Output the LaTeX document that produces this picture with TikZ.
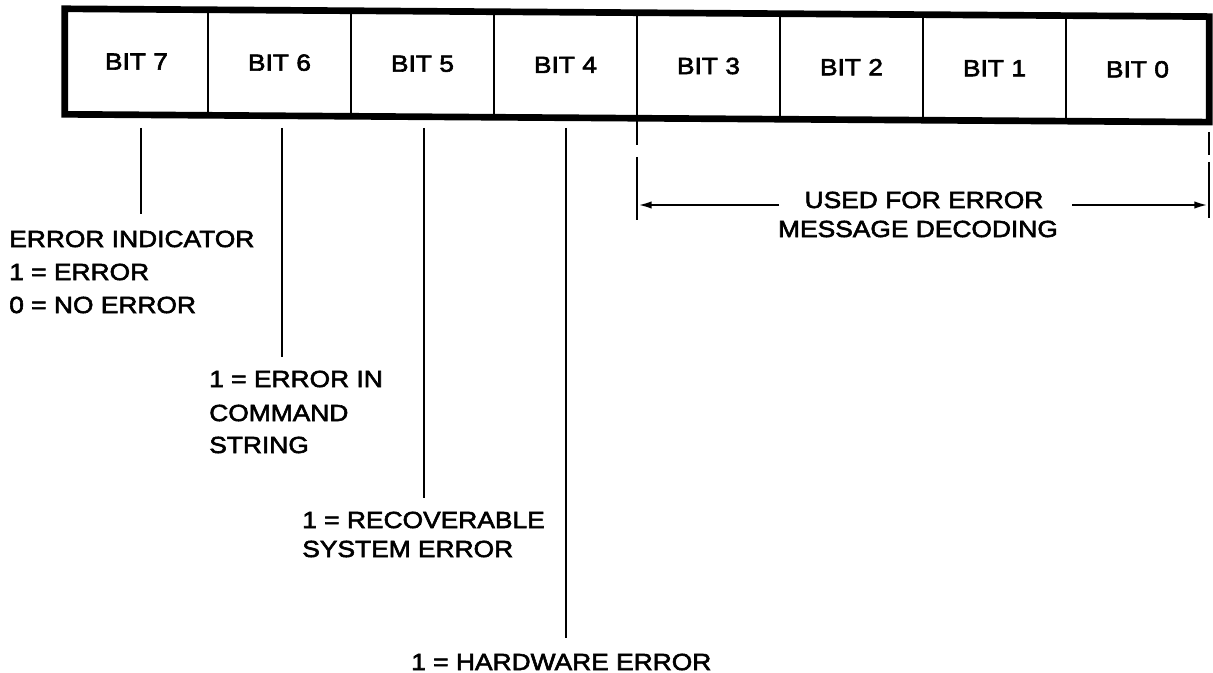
\documentclass[tikz,border=0pt]{standalone}
\usepackage{fontspec}
\setmainfont{Liberation Sans}[FakeStretch=1.13,FakeBold=2.5]
\usetikzlibrary{arrows.meta}
\begin{document}
\begin{tikzpicture}[x=0.75pt,y=-0.75pt,
  txt/.style={font=\fontsize{17.5}{21}\selectfont},
  lbl/.style={txt,inner sep=0pt,anchor=west},
  cell/.style={txt,inner sep=0pt,minimum width=107.25pt,minimum height=78.75pt},
  frame/.style={line width=5pt,line join=miter},
  divider/.style={line width=1.2pt},
  lead/.style={line width=1.6pt},
  ext/.style={line width=1.4pt},
  arr/.style={line width=2pt,-{Latex[length=11pt,width=5.5pt]}}]
\useasboundingbox (0,0) rectangle (1213,673);
% register cells (slightly tilted, as in the scan)
\begin{scope}[yslant=-0.0078]
  \node[cell] (b7) at (136.5,60.5) {BIT 7};
  \node[cell] (b6) at (279.5,60.5) {BIT 6};
  \node[cell] (b5) at (422.5,60.5) {BIT 5};
  \node[cell] (b4) at (565.5,60.5) {BIT 4};
  \node[cell] (b3) at (708.5,60.5) {BIT 3};
  \node[cell] (b2) at (851.5,60.5) {BIT 2};
  \node[cell] (b1) at (994.5,60.5) {BIT 1};
  \node[cell] (b0) at (1137.5,60.5) {BIT 0};
\end{scope}
\foreach \c in {b7,b6,b5,b4,b3,b2,b1}
  \draw[divider] (\c.north east) -- (\c.south east);
\draw[frame] (b7.north west) -- (b0.north east) -- (b0.south east) -- (b7.south west) -- cycle;
% leaders
\coordinate (t7) at (141,128); \coordinate (e7) at (141,214);
\coordinate (t6) at (282,128); \coordinate (e6) at (282,357);
\coordinate (t5) at (424,128); \coordinate (e5) at (424,498);
\coordinate (t4) at (566,128); \coordinate (e4) at (566,638);
\draw[lead] (t7) -- (e7);
\draw[lead] (t6) -- (e6);
\draw[lead] (t5) -- (e5);
\draw[lead] (t4) -- (e4);
% labels
\node[lbl] (ind)  at (9,239) {ERROR INDICATOR};
\node[lbl] (ind1) at (9,272) {1 = ERROR};
\node[lbl] (ind0) at (9,305) {0 = NO ERROR};
\node[lbl] (cmd1) at (209,379) {1 = ERROR IN};
\node[lbl] (cmd2) at (209,413) {COMMAND};
\node[lbl] (cmd3) at (209,445) {STRING};
\node[lbl] (rec1) at (302,520) {1 = RECOVERABLE};
\node[lbl] (rec2) at (302,549) {SYSTEM ERROR};
\node[lbl] (hw)   at (411,662) {1 = HARDWARE ERROR};
% bits 3..0 span
\coordinate (xl1) at (637,120); \coordinate (xl2) at (637,145);
\coordinate (xl3) at (637,157); \coordinate (xl4) at (637,220);
\coordinate (xr1) at (1209,132); \coordinate (xr2) at (1209,155);
\coordinate (xr3) at (1209,162); \coordinate (xr4) at (1209,218);
\draw[ext] (xl1) -- (xl2); \draw[ext] (xl3) -- (xl4);
\draw[ext] (xr1) -- (xr2); \draw[ext] (xr3) -- (xr4);
\node[txt,inner sep=0pt] (msg1) at (924,200) {USED FOR ERROR};
\node[txt,inner sep=0pt] (msg2) at (918,229) {MESSAGE DECODING};
\coordinate (aL) at (637,205); \coordinate (aLs) at (779,205);
\coordinate (aR) at (1209,205); \coordinate (aRs) at (1072,205);
\draw[arr] (aLs) -- (aL);
\draw[arr] (aRs) -- (aR);
\end{tikzpicture}
\end{document}
